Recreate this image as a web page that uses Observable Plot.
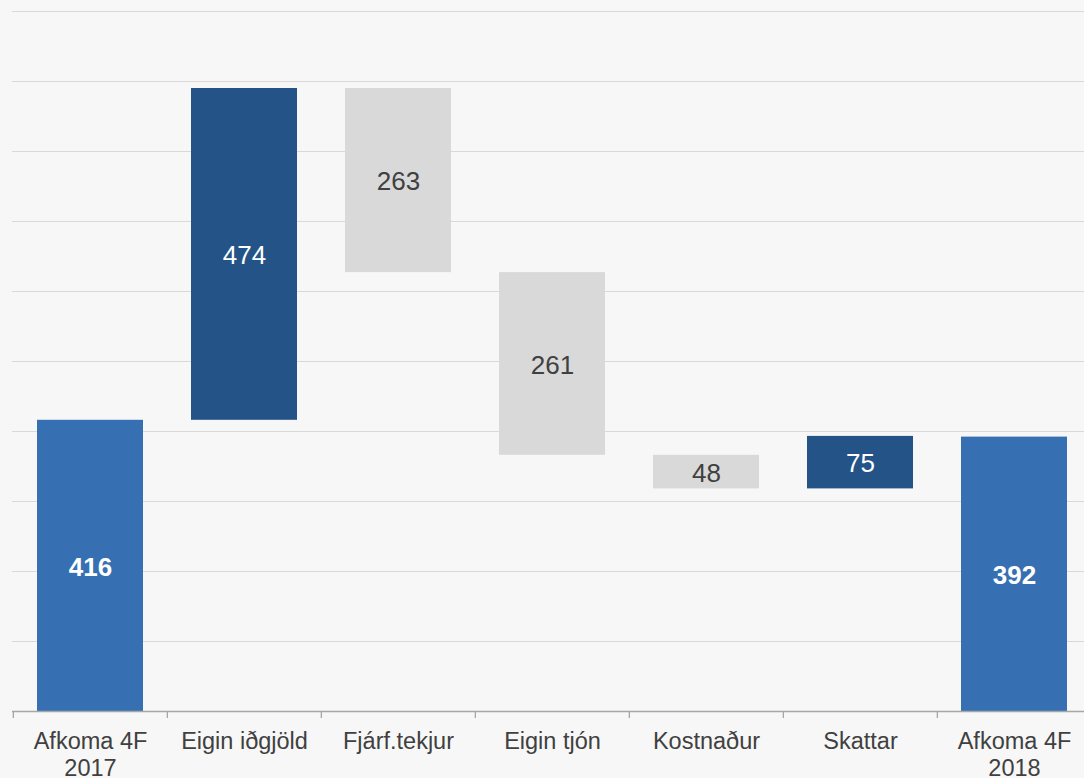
<!DOCTYPE html>
<html>
<head>
<meta charset="utf-8">
<script src="https://cdn.jsdelivr.net/npm/d3@7"></script>
<script src="https://cdn.jsdelivr.net/npm/@observablehq/plot@0.6"></script>
<style>
  html, body { margin: 0; padding: 0; background: #f7f7f7; }
  #chart svg { display: block; }
</style>
</head>
<body>
<div id="chart"></div>
<script>
const categories = ["Afkoma 4F 2017", "Eigin iðgjöld", "Fjárf.tekjur", "Eigin tjón", "Kostnaður", "Skattar", "Afkoma 4F 2018"];
const tickLabels = ["Afkoma 4F\n2017", "Eigin iðgjöld", "Fjárf.tekjur", "Eigin tjón", "Kostnaður", "Skattar", "Afkoma 4F\n2018"];
const values = [416, 474, -263, -261, -48, 75, 392];
const kinds = ["total", "up", "down", "down", "down", "up", "total"];
const gridValues = [0, 100, 200, 300, 400, 500, 600, 700, 800, 900, 1000];

const colors = { total: "#3670b3", up: "#245387", down: "#d9d9d9" };
const labelColors = { total: "#ffffff", up: "#ffffff", down: "#404040" };

let running = 0;
const rows = categories.map((c, i) => {
  let y1, y2;
  if (kinds[i] === "total") { y1 = 0; y2 = values[i]; running = values[i]; }
  else { y1 = running; y2 = running + values[i]; running = y2; }
  return { cat: c, label: tickLabels[i], value: Math.abs(values[i]), kind: kinds[i], y1, y2, mid: (y1 + y2) / 2 };
});

const W = 1084, H = 778;
const xRange = [12, 1092];
const step = (xRange[1] - xRange[0]) / categories.length;

const chart = Plot.plot({
  width: W,
  height: H,
  marginTop: 11,
  marginBottom: 67,
  marginLeft: 12,
  marginRight: 0,
  style: { background: "#f7f7f7", fontFamily: "Liberation Sans, Arial, sans-serif" },
  x: { domain: categories, range: xRange, paddingInner: 0.313, paddingOuter: 0.1565, axis: null },
  y: { domain: [0, 1000], axis: null },
  marks: [
    Plot.ruleY(gridValues.slice(1), { stroke: "#d9d9d9", strokeWidth: 1 }),
    Plot.barY(rows, { x: "cat", y1: "y1", y2: "y2", fill: (d) => colors[d.kind] }),
    Plot.ruleY([0], { stroke: "#a6a6a6", strokeWidth: 1.3 }),
    Plot.axisX({ tickSize: 7, tickFormat: () => "", label: null, dx: -step / 2, stroke: "#a6a6a6", strokeWidth: 1.3 }),
    Plot.text(rows.filter((d) => d.kind !== "total"), {
      x: "cat", y: "mid", text: (d) => String(d.value),
      fill: (d) => labelColors[d.kind],
      fontSize: 26, dy: 1.5
    }),
    Plot.text(rows.filter((d) => d.kind === "total"), {
      x: "cat", y: "mid", text: (d) => String(d.value),
      fill: (d) => labelColors[d.kind],
      fontSize: 26, fontWeight: "bold", dy: 1.5
    }),
    Plot.text(rows, {
      x: "cat", frameAnchor: "bottom", text: "label",
      lineAnchor: "top", dy: 18, lineHeight: 1.15,
      fontSize: 23.5, fill: "#404040"
    })
  ]
});

document.getElementById("chart").appendChild(chart);
</script>
</body>
</html>
